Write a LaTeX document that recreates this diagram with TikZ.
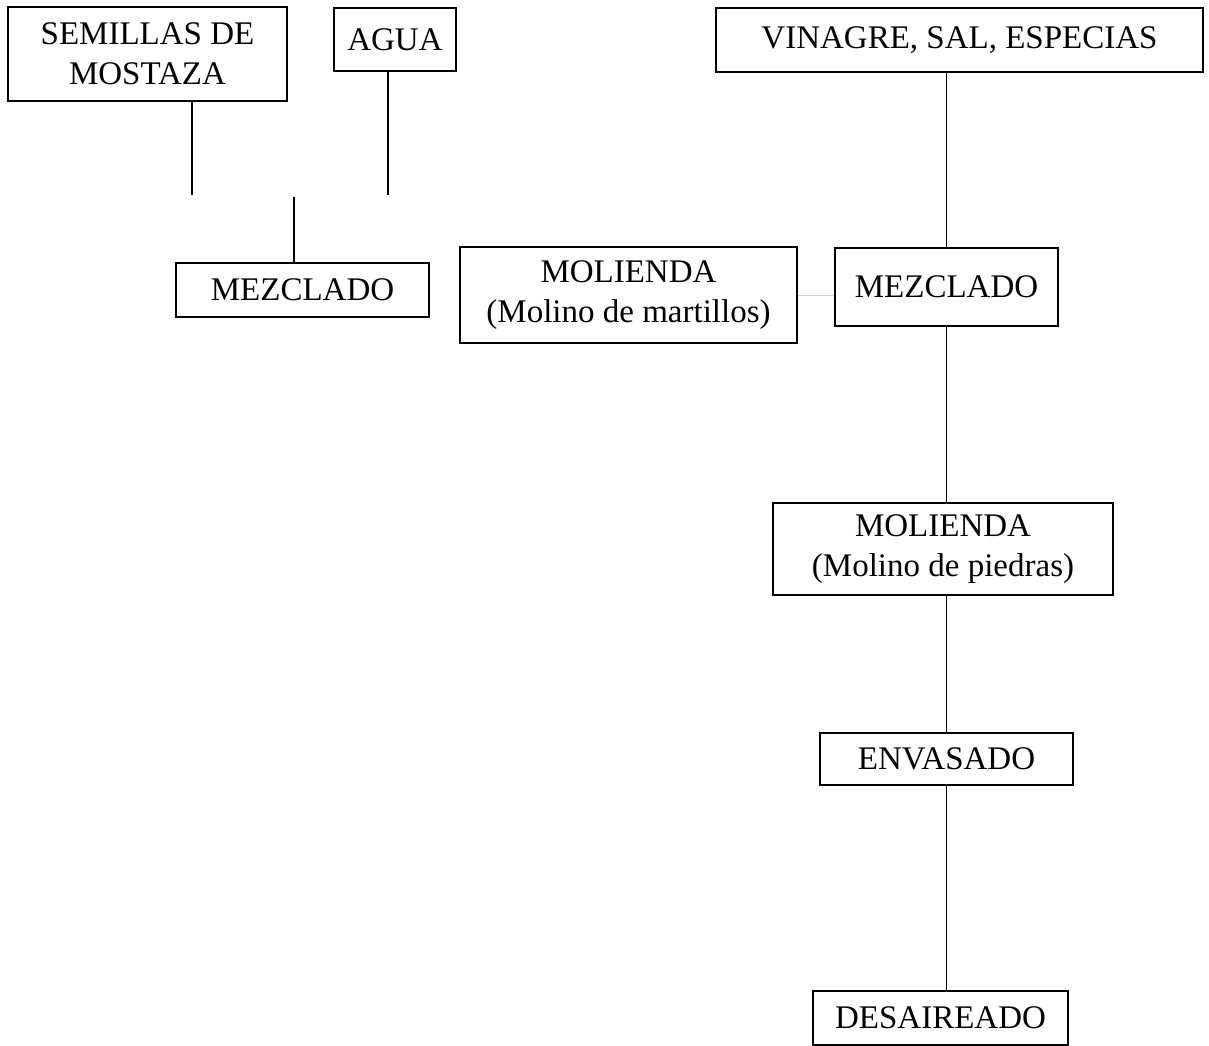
\documentclass[tikz,border=0pt]{standalone}
\usepackage{fontspec}
\setmainfont{Liberation Serif}
\usetikzlibrary{calc}
\tikzset{
  caja/.style={draw, line width=1.2pt, align=center, inner sep=0pt,
    font=\fontsize{33}{40}\selectfont},
  linea/.style={line width=1.8pt}
}
\begin{document}
\begin{tikzpicture}[x=1pt, y=-1pt]
   \useasboundingbox (0,0) rectangle (1209,1045);
   % materias primas
   \node[caja, minimum width=279, minimum height=94] (sem) at (147.5,54) {SEMILLAS DE\\MOSTAZA};
   \node[caja, minimum width=122, minimum height=63] (agua) at (395,39.5) {AGUA};
   \node[caja, minimum width=487, minimum height=64] (vin) at (959.5,40) {VINAGRE, SAL, ESPECIAS};
   % etapas
   \node[caja, minimum width=253, minimum height=54] (mez1) at (302.5,290) {MEZCLADO};
   \node[caja, minimum width=337, minimum height=96] (mol1) at (628.5,295) {MOLIENDA\\(Molino de martillos)};
   \node[caja, minimum width=223, minimum height=78] (mez2) at (946.5,287) {MEZCLADO};
   \node[caja, minimum width=340, minimum height=92] (mol2) at (943,549) {MOLIENDA\\(Molino de piedras)};
   \node[caja, minimum width=253, minimum height=52] (env) at (946.5,759) {ENVASADO};
   \node[caja, minimum width=255, minimum height=54] (des) at (940.5,1018) {DESAIREADO};
   % puntos de union
   \coordinate (jl) at (192,195);
   \coordinate (jr) at (388,195);
   \coordinate (jm) at (294,197);
   % conexiones lado izquierdo
   \draw[linea] (sem.south -| jl) -- (jl);
   \draw[linea] (agua.south -| jr) -- (jr);
   \draw[linea] (jm) -- (jm |- mez1.north);
   \draw[line width=0.6pt, gray!35] (mol1.east) -- (mol1.east -| mez2.west);
   % conexiones lado derecho
   \draw[linea] (vin.south -| mez2.north) -- (mez2.north);
   \draw[linea] (mez2.south) -- (mez2.south |- mol2.north);
   \draw[linea] (mol2.south -| env.north) -- (env.north);
   \draw[linea] (env.south) -- (env.south |- des.north);
\end{tikzpicture}
\end{document}
